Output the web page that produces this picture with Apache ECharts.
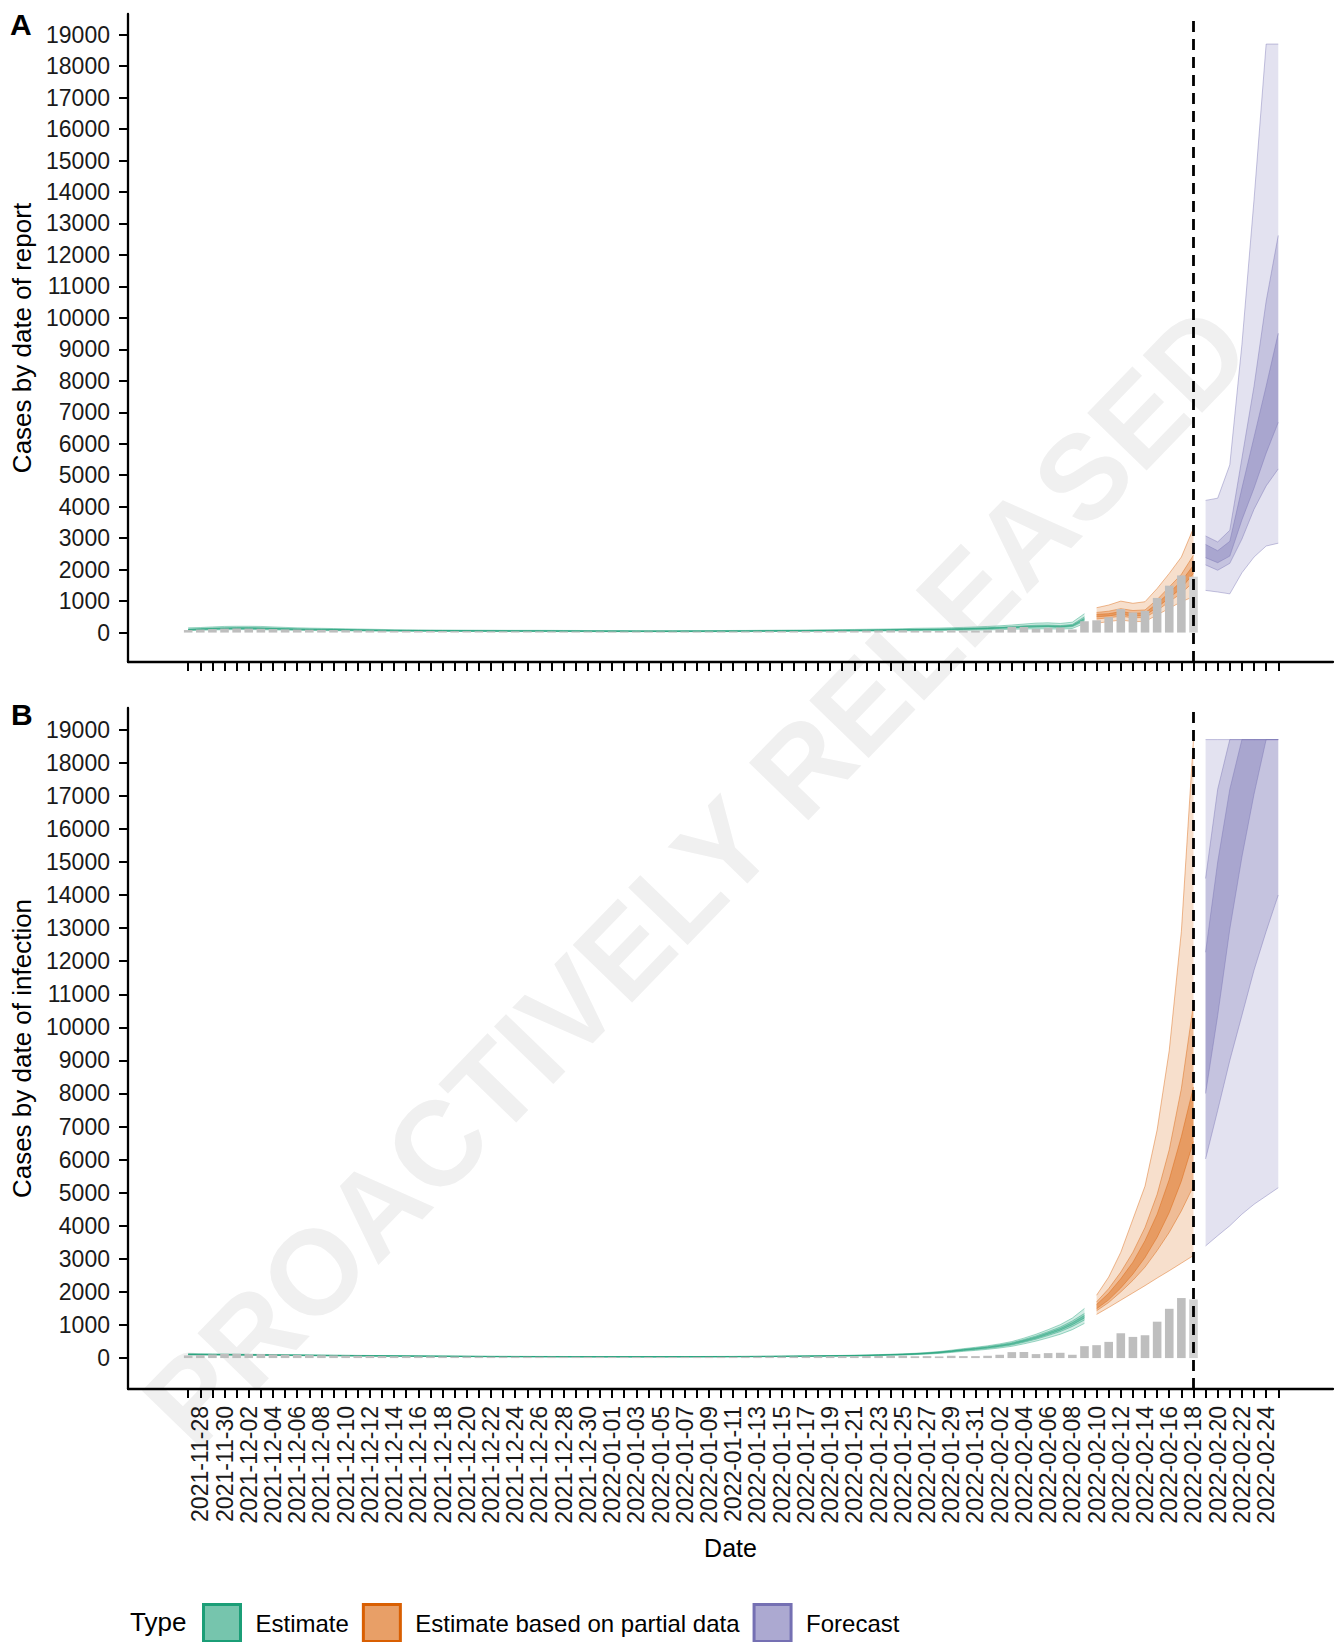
<!DOCTYPE html>
<html>
<head>
<meta charset="utf-8">
<title>Cases by date of report and infection</title>
<script src="https://cdn.jsdelivr.net/npm/echarts@6/dist/echarts.min.js"></script>
<style>
  html, body { margin: 0; padding: 0; background: #fff; }
  #chart { width: 1338px; height: 1642px; }
</style>
</head>
<body>
<div id="chart"></div>
<script>
// one entry per day, index 0 = 2021-11-27
const dates = [
  "2021-11-27", "2021-11-28", "2021-11-29", "2021-11-30",
  "2021-12-01", "2021-12-02", "2021-12-03", "2021-12-04", "2021-12-05", "2021-12-06", "2021-12-07", "2021-12-08",
  "2021-12-09", "2021-12-10", "2021-12-11", "2021-12-12", "2021-12-13", "2021-12-14", "2021-12-15", "2021-12-16",
  "2021-12-17", "2021-12-18", "2021-12-19", "2021-12-20", "2021-12-21", "2021-12-22", "2021-12-23", "2021-12-24",
  "2021-12-25", "2021-12-26", "2021-12-27", "2021-12-28", "2021-12-29", "2021-12-30", "2021-12-31",
  "2022-01-01", "2022-01-02", "2022-01-03", "2022-01-04", "2022-01-05", "2022-01-06", "2022-01-07", "2022-01-08",
  "2022-01-09", "2022-01-10", "2022-01-11", "2022-01-12", "2022-01-13", "2022-01-14", "2022-01-15", "2022-01-16",
  "2022-01-17", "2022-01-18", "2022-01-19", "2022-01-20", "2022-01-21", "2022-01-22", "2022-01-23", "2022-01-24",
  "2022-01-25", "2022-01-26", "2022-01-27", "2022-01-28", "2022-01-29", "2022-01-30", "2022-01-31",
  "2022-02-01", "2022-02-02", "2022-02-03", "2022-02-04", "2022-02-05", "2022-02-06", "2022-02-07", "2022-02-08",
  "2022-02-09", "2022-02-10", "2022-02-11", "2022-02-12", "2022-02-13", "2022-02-14", "2022-02-15", "2022-02-16",
  "2022-02-17", "2022-02-18", "2022-02-19", "2022-02-20", "2022-02-21", "2022-02-22", "2022-02-23", "2022-02-24",
  "2022-02-25"
];
const tickIdx = dates.map((d, i) => i);
const labelIdx = tickIdx.filter((i) => i % 2 === 1);
const yTicks = [0, 1000, 2000, 3000, 4000, 5000, 6000, 7000, 8000, 9000, 10000,
  11000, 12000, 13000, 14000, 15000, 16000, 17000, 18000, 19000];

const estimateStart = 0;   // 2021-11-27
const partialStart = 75;   // 2022-02-10
const forecastStart = 84;  // 2022-02-19
const dataDate = 83;       // 2022-02-18

// reported cases (grey bars), index 0..83
const reported = [
  80, 95, 110, 125, 130, 125, 120, 110, 100, 95,
  90, 85, 80, 75, 70, 65, 60, 55, 55, 50,
  50, 48, 45, 45, 42, 40, 40, 40, 38, 38,
  38, 36, 36, 35, 35, 34, 34, 34, 33, 33,
  33, 34, 34, 35, 36, 37, 38, 40, 42, 44,
  46, 48, 50, 53, 56, 58, 62, 65, 68, 72,
  55, 60, 50, 70, 60, 60, 70, 100, 180, 180,
  120, 150, 160, 100, 360, 390, 490, 750, 640, 690,
  1100, 1490, 1815, 1775
];

// ---- A: cases by date of report ----
const repEstLo90 = [
  60, 75, 85, 90, 95, 95, 92, 85, 78, 70,
  66, 62, 59, 55, 52, 49, 46, 43, 41, 39,
  38, 37, 36, 35, 34, 33, 33, 32, 32, 32,
  31, 31, 30, 30, 29, 28, 28, 28, 28, 28,
  28, 28, 28, 29, 30, 30, 31, 32, 33, 35,
  36, 37, 39, 41, 43, 45, 47, 50, 53, 56,
  58, 62, 65, 70, 75, 80, 86, 95, 105, 115,
  120, 120, 110, 130, 290
];
const repEstHi90 = [
  150, 160, 180, 195, 200, 200, 195, 180, 165, 150,
  142, 135, 128, 120, 113, 106, 99, 92, 88, 85,
  82, 80, 78, 76, 75, 74, 72, 71, 71, 71,
  70, 68, 67, 65, 64, 63, 63, 61, 61, 61,
  61, 62, 62, 64, 65, 67, 68, 71, 74, 77,
  80, 82, 86, 90, 95, 99, 105, 110, 116, 123,
  135, 140, 145, 155, 165, 180, 195, 215, 240, 270,
  300, 310, 290, 330, 600
];
const repEstLo50 = [
  80, 95, 108, 116, 120, 120, 116, 108, 99, 90,
  86, 82, 77, 73, 69, 65, 60, 56, 53, 52,
  50, 48, 47, 46, 46, 45, 44, 43, 43, 43,
  42, 41, 40, 40, 39, 38, 38, 37, 37, 37,
  37, 38, 38, 39, 40, 40, 41, 43, 45, 46,
  48, 50, 52, 55, 58, 60, 64, 67, 71, 75,
  78, 82, 86, 93, 99, 108, 116, 129, 142, 159,
  170, 175, 160, 185, 370
];
const repEstHi50 = [
  110, 127, 144, 155, 161, 161, 155, 144, 132, 121,
  115, 109, 104, 98, 92, 86, 81, 75, 71, 69,
  67, 64, 63, 62, 61, 60, 59, 58, 58, 58,
  56, 55, 54, 53, 52, 51, 51, 49, 49, 49,
  49, 51, 51, 52, 53, 54, 55, 58, 60, 62,
  64, 67, 70, 74, 77, 81, 85, 90, 94, 100,
  104, 110, 116, 124, 132, 144, 155, 173, 192, 215,
  235, 240, 222, 258, 500
];
const repEstLo20 = [
  90, 104, 118, 128, 133, 133, 128, 118, 109, 100,
  95, 90, 85, 81, 76, 71, 66, 62, 59, 57,
  55, 53, 52, 51, 50, 49, 48, 48, 48, 48,
  47, 46, 45, 44, 43, 42, 42, 41, 41, 41,
  41, 42, 42, 43, 44, 45, 46, 48, 49, 51,
  53, 55, 58, 61, 64, 66, 70, 74, 78, 83,
  85, 90, 95, 103, 109, 119, 128, 142, 157, 176,
  190, 195, 180, 209, 408
];
const repEstHi20 = [
  100, 116, 131, 142, 147, 147, 142, 131, 121, 110,
  105, 100, 95, 89, 84, 79, 74, 68, 65, 63,
  61, 59, 58, 57, 56, 55, 54, 53, 53, 53,
  51, 50, 49, 48, 47, 46, 46, 45, 45, 45,
  45, 46, 46, 47, 48, 49, 50, 53, 55, 57,
  59, 61, 64, 67, 70, 74, 78, 82, 86, 91,
  95, 100, 105, 113, 121, 131, 142, 158, 173, 194,
  210, 215, 200, 231, 452
];
const repPartLo90 = [295, 350, 400, 350, 350, 560, 770, 980, 1140];
const repPartHi90 = [790, 875, 1000, 930, 980, 1400, 1880, 2400, 3320];
const repPartLo50 = [430, 470, 520, 470, 480, 700, 980, 1250, 1610];
const repPartHi50 = [640, 680, 760, 700, 720, 1050, 1450, 1850, 2460];
const repPartLo20 = [500, 530, 580, 525, 545, 800, 1100, 1410, 1880];
const repPartHi20 = [580, 600, 670, 610, 630, 920, 1270, 1630, 2140];
const repFcLo90 = [1340, 1290, 1230, 1900, 2400, 2750, 2840];
const repFcHi90 = [4200, 4270, 5330, 9150, 13760, 18700, 18700];
const repFcLo50 = [2150, 1980, 2200, 2970, 3920, 4660, 5200];
const repFcHi50 = [3070, 2880, 3250, 5540, 7830, 10530, 12620];
const repFcLo20 = [2380, 2220, 2430, 3580, 4590, 5700, 6680];
const repFcHi20 = [2800, 2600, 2900, 4590, 6210, 7830, 9510];

// ---- B: cases by date of infection ----
const infEstLo90 = [
  95, 93, 90, 88, 85, 83, 80, 78, 75, 73,
  70, 68, 65, 63, 60, 58, 55, 53, 52, 50,
  48, 47, 45, 43, 42, 40, 39, 38, 37, 36,
  35, 35, 34, 34, 33, 33, 33, 33, 33, 33,
  34, 34, 35, 35, 36, 37, 39, 40, 42, 44,
  47, 49, 52, 55, 58, 62, 68, 75, 83, 92,
  104, 120, 141, 170, 203, 232, 265, 306, 356, 430,
  513, 612, 720, 860, 1050
];
const infEstHi90 = [
  130, 128, 124, 121, 117, 114, 110, 107, 103, 100,
  96, 93, 89, 86, 82, 79, 75, 73, 71, 68,
  66, 64, 61, 59, 57, 55, 53, 52, 51, 50,
  49, 48, 46, 46, 45, 45, 45, 45, 45, 45,
  46, 46, 47, 49, 50, 51, 53, 56, 58, 61,
  65, 68, 72, 77, 81, 87, 95, 104, 116, 129,
  145, 168, 197, 238, 284, 325, 371, 429, 499, 603,
  720, 860, 1010, 1210, 1500
];
const infEstLo50 = [
  103, 101, 98, 96, 93, 90, 87, 85, 82, 79,
  76, 74, 71, 68, 65, 63, 60, 58, 56, 54,
  52, 51, 49, 47, 45, 43, 42, 41, 40, 40,
  39, 38, 37, 37, 36, 36, 36, 36, 36, 36,
  37, 37, 38, 39, 40, 40, 42, 44, 46, 49,
  52, 54, 57, 61, 64, 69, 75, 83, 92, 102,
  115, 133, 156, 189, 225, 258, 294, 340, 396, 478,
  570, 681, 800, 957, 1150
];
const infEstHi50 = [
  121, 119, 116, 112, 109, 106, 103, 99, 96, 93,
  90, 86, 83, 80, 77, 73, 70, 68, 66, 64,
  62, 59, 57, 55, 53, 51, 50, 49, 48, 46,
  45, 44, 43, 43, 42, 42, 42, 42, 42, 42,
  43, 43, 44, 45, 46, 48, 50, 52, 54, 57,
  60, 64, 67, 71, 76, 81, 89, 97, 108, 120,
  135, 157, 184, 221, 265, 302, 346, 400, 464, 562,
  670, 799, 940, 1123, 1350
];
const infEstLo20 = [
  109, 107, 104, 101, 98, 95, 92, 89, 86, 83,
  81, 78, 75, 72, 69, 66, 63, 61, 59, 57,
  55, 53, 51, 49, 48, 46, 45, 44, 43, 42,
  41, 40, 39, 39, 38, 38, 38, 38, 38, 38,
  39, 39, 40, 41, 42, 43, 45, 47, 49, 51,
  54, 57, 60, 64, 68, 73, 80, 87, 97, 108,
  121, 141, 165, 199, 238, 272, 310, 359, 417, 504,
  601, 718, 844, 1009, 1213
];
const infEstHi20 = [
  115, 113, 110, 107, 104, 101, 98, 95, 92, 89,
  85, 82, 79, 76, 73, 70, 67, 65, 63, 61,
  59, 57, 55, 53, 50, 48, 47, 46, 45, 44,
  43, 42, 41, 41, 40, 40, 40, 40, 40, 40,
  41, 41, 42, 43, 44, 45, 47, 49, 52, 55,
  58, 61, 64, 68, 72, 77, 84, 93, 103, 114,
  129, 149, 175, 211, 252, 288, 330, 381, 443, 536,
  639, 762, 896, 1071, 1288
];
const infPartLo90 = [1320, 1530, 1750, 1970, 2190, 2420, 2640, 2870, 3100];
const infPartHi90 = [1900, 2450, 3200, 4200, 5200, 6900, 9300, 12900, 18700];
const infPartLo50 = [1430, 1680, 2000, 2350, 2750, 3250, 3800, 4450, 5200];
const infPartHi50 = [1700, 2100, 2600, 3200, 3950, 4950, 6300, 8150, 10700];
const infPartLo20 = [1490, 1760, 2120, 2540, 3040, 3650, 4400, 5350, 6550];
const infPartHi20 = [1620, 1960, 2400, 2900, 3550, 4350, 5400, 6700, 8200];
const infFcLo90 = [3390, 3700, 4000, 4350, 4650, 4900, 5150];
const infFcHi90 = [18700, 18700, 18700, 18700, 18700, 18700, 18700];
const infFcLo50 = [6020, 7490, 9000, 10360, 11730, 12900, 14000];
const infFcHi50 = [14500, 17200, 18700, 18700, 18700, 18700, 18700];
const infFcLo20 = [8000, 10360, 12970, 15150, 17050, 18700, 18700];
const infFcHi20 = [12270, 15000, 17200, 18700, 18700, 18700, 18700];

const FONT = "'Liberation Sans', Arial, Helvetica, sans-serif";
const GREEN = "#1B9E77";
const ORANGE = "#D95F02";
const PURPLE = "#7570B3";
// fill opacity of the 90%, 50% and 20% intervals (they are drawn on top of each other)
const ALPHA = { 90: 0.2, 50: 0.27, 20: 0.35 };

function rgba(hex, a) {
  const n = parseInt(hex.slice(1), 16);
  return "rgba(" + (n >> 16) + "," + ((n >> 8) & 255) + "," + (n & 255) + "," + a + ")";
}

// one credible interval drawn as a filled polygon between lower and upper, plus thin edges
function ribbon(panel, name, color, start, lower, upper, level) {
  return {
    type: "custom",
    name: name,
    xAxisIndex: panel,
    yAxisIndex: panel,
    silent: true,
    data: lower.map((v, i) => [start + i, v, upper[i]]),
    encode: { x: 0, y: [1, 2] },
    renderItem: (params, api) => {
      if (params.dataIndex !== 0) {
        return null;
      }
      const lo = lower.map((v, i) => api.coord([start + i, v]));
      const hi = upper.map((v, i) => api.coord([start + i, v]));
      const edge = { fill: null, stroke: rgba(color, 0.7), lineWidth: 0.6 };
      return {
        type: "group",
        children: [
          { type: "polygon", shape: { points: hi.concat(lo.slice().reverse()) }, style: { fill: rgba(color, ALPHA[level]) } },
          { type: "polyline", shape: { points: hi }, style: edge },
          { type: "polyline", shape: { points: lo }, style: edge }
        ]
      };
    }
  };
}

function panelSeries(panel, bands) {
  const out = [
    {
      type: "bar",
      name: "Reported",
      xAxisIndex: panel,
      yAxisIndex: panel,
      barWidth: 8.6,
      silent: true,
      data: reported.map((v, i) => [i, v]),
      itemStyle: {
        color: (p) => (p.dataIndex === dataDate ? "#d2d2d2" : "#bebebe")
      },
      markLine: {
        symbol: "none",
        silent: true,
        label: { show: false },
        lineStyle: { color: "#000", type: [11, 7], width: 2.8 },
        data: [{ xAxis: dataDate }]
      }
    }
  ];
  bands.forEach((b) => {
    out.push(ribbon(panel, b[0], b[1], b[2], b[3], b[4], b[5]));
  });
  return out;
}

const reportBands = [
  ["Estimate", GREEN, estimateStart, repEstLo90, repEstHi90, 90],
  ["Estimate", GREEN, estimateStart, repEstLo50, repEstHi50, 50],
  ["Estimate", GREEN, estimateStart, repEstLo20, repEstHi20, 20],
  ["Estimate based on partial data", ORANGE, partialStart, repPartLo90, repPartHi90, 90],
  ["Estimate based on partial data", ORANGE, partialStart, repPartLo50, repPartHi50, 50],
  ["Estimate based on partial data", ORANGE, partialStart, repPartLo20, repPartHi20, 20],
  ["Forecast", PURPLE, forecastStart, repFcLo90, repFcHi90, 90],
  ["Forecast", PURPLE, forecastStart, repFcLo50, repFcHi50, 50],
  ["Forecast", PURPLE, forecastStart, repFcLo20, repFcHi20, 20]
];
const infectionBands = [
  ["Estimate", GREEN, estimateStart, infEstLo90, infEstHi90, 90],
  ["Estimate", GREEN, estimateStart, infEstLo50, infEstHi50, 50],
  ["Estimate", GREEN, estimateStart, infEstLo20, infEstHi20, 20],
  ["Estimate based on partial data", ORANGE, partialStart, infPartLo90, infPartHi90, 90],
  ["Estimate based on partial data", ORANGE, partialStart, infPartLo50, infPartHi50, 50],
  ["Estimate based on partial data", ORANGE, partialStart, infPartLo20, infPartHi20, 20],
  ["Forecast", PURPLE, forecastStart, infFcLo90, infFcHi90, 90],
  ["Forecast", PURPLE, forecastStart, infFcLo50, infFcHi50, 50],
  ["Forecast", PURPLE, forecastStart, infFcLo20, infFcHi20, 20]
];

function xAxis(panel, withLabels) {
  return {
    type: "value",
    gridIndex: panel,
    min: -4.97,
    max: 94.52,
    axisLine: { show: true, onZero: false, lineStyle: { color: "#000", width: 2.3 } },
    axisTick: { show: true, length: 9, customValues: tickIdx, lineStyle: { color: "#000", width: 2 } },
    axisLabel: {
      show: withLabels,
      customValues: labelIdx,
      formatter: (v) => dates[v] || "",
      rotate: 90,
      margin: 17,
      fontSize: 23,
      fontFamily: FONT,
      color: "#1a1a1a"
    },
    splitLine: { show: false },
    name: withLabels ? "Date" : "",
    nameLocation: "middle",
    nameGap: 146,
    nameMoveOverlap: false,
    nameTextStyle: { fontSize: 25, fontFamily: FONT, color: "#000" }
  };
}

function yAxis(panel, title) {
  return {
    type: "value",
    gridIndex: panel,
    min: -935,
    max: 19655,
    axisLine: { show: true, onZero: false, lineStyle: { color: "#000", width: 2.3 } },
    axisTick: { show: true, length: 9, customValues: yTicks, lineStyle: { color: "#000", width: 2 } },
    axisLabel: {
      customValues: yTicks,
      formatter: (v) => String(v),
      margin: 18,
      fontSize: 23,
      fontFamily: FONT,
      color: "#1a1a1a"
    },
    splitLine: { show: false },
    name: title,
    nameLocation: "middle",
    nameGap: 93,
    nameMoveOverlap: false,
    nameTextStyle: { fontSize: 26, fontFamily: FONT, color: "#000" }
  };
}

const chart = echarts.init(document.getElementById("chart"), null, { renderer: "svg" });

chart.setOption({
  backgroundColor: "#fff",
  animation: false,
  grid: [
    { left: 128, width: 1205, top: 14, height: 648, containLabel: false, outerBoundsMode: "none" },
    { left: 128, width: 1205, top: 708, height: 681, containLabel: false, outerBoundsMode: "none" }
  ],
  xAxis: [xAxis(0, false), xAxis(1, true)],
  yAxis: [yAxis(0, "Cases by date of report"), yAxis(1, "Cases by date of infection")],
  legend: {
    left: 202,
    top: 1603,
    padding: 0,
    icon: "rect",
    itemWidth: 37,
    itemHeight: 37,
    itemGap: 13,
    selectedMode: false,
    textStyle: { fontSize: 24, fontFamily: FONT, color: "#000", padding: [0, 0, 0, 10] },
    data: [
      { name: "Estimate", itemStyle: { color: rgba(GREEN, 0.6), borderColor: GREEN, borderWidth: 3 } },
      { name: "Estimate based on partial data", itemStyle: { color: rgba(ORANGE, 0.6), borderColor: ORANGE, borderWidth: 3 } },
      { name: "Forecast", itemStyle: { color: rgba(PURPLE, 0.6), borderColor: PURPLE, borderWidth: 3 } }
    ]
  },
  graphic: [
    {
      type: "text",
      z: -10,
      silent: true,
      x: 696,
      y: 876,
      rotation: 46 * Math.PI / 180,
      style: {
        text: "PROACTIVELY RELEASED",
        fill: "#f0f0f0",
        font: "bold 120px " + FONT,
        textAlign: "center",
        textVerticalAlign: "middle",
        align: "center",
        verticalAlign: "middle"
      }
    },
    {
      type: "text",
      x: 10,
      y: 24,
      style: { text: "A", fill: "#000", font: "bold 30px " + FONT, textVerticalAlign: "middle", verticalAlign: "middle" }
    },
    {
      type: "text",
      x: 11,
      y: 714,
      style: { text: "B", fill: "#000", font: "bold 30px " + FONT, textVerticalAlign: "middle", verticalAlign: "middle" }
    },
    {
      type: "text",
      x: 130,
      y: 1622,
      style: { text: "Type", fill: "#000", font: "26px " + FONT, textVerticalAlign: "middle", verticalAlign: "middle" }
    }
  ],
  series: panelSeries(0, reportBands).concat(panelSeries(1, infectionBands))
});
</script>
</body>
</html>
